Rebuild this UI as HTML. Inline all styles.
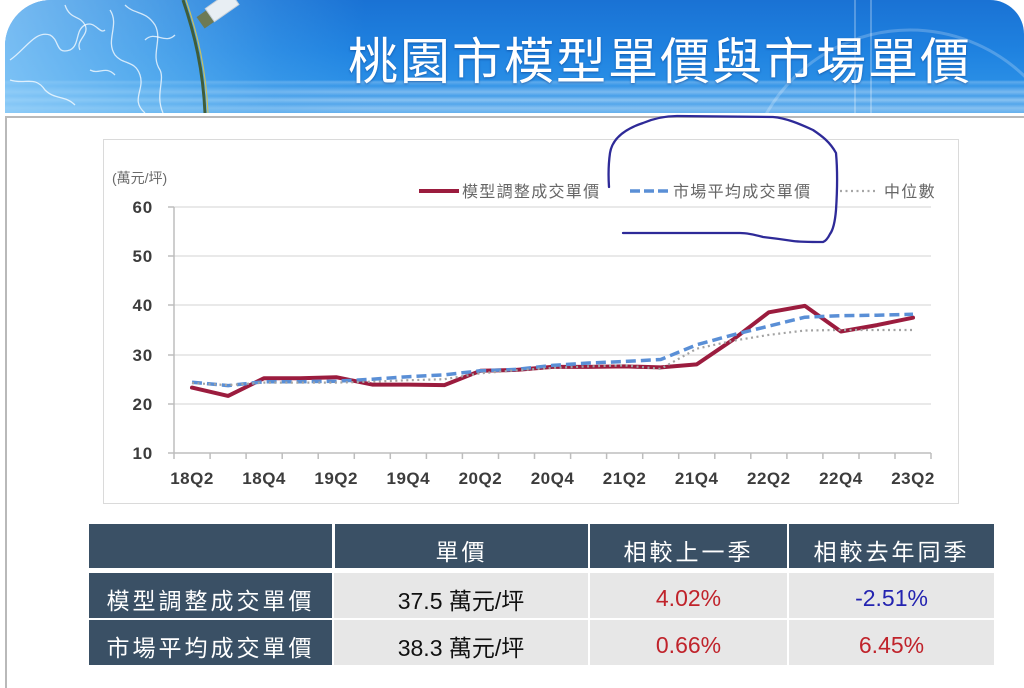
<!DOCTYPE html>
<html>
<head>
<meta charset="utf-8">
<style>
  html,body{margin:0;padding:0;background:#fff;}
  body{width:1024px;height:688px;position:relative;overflow:hidden;font-family:"Liberation Sans","Noto Sans CJK TC",sans-serif;}
  .banner{position:absolute;left:5px;top:0;width:1019px;height:113px;border-radius:46px 34px 0 0;overflow:hidden;
    background:
      linear-gradient(180deg, rgba(255,255,255,0) 0px, rgba(255,255,255,0) 80px, rgba(255,255,255,0.25) 82px, rgba(255,255,255,0.05) 86px, rgba(255,255,255,0.35) 92px, rgba(255,255,255,0.08) 96px, rgba(255,255,255,0.4) 100px, rgba(255,255,255,0.1) 104px, rgba(255,255,255,0.35) 108px, rgba(255,255,255,0.15) 113px),
      linear-gradient(180deg, #1a72d4 0%, #1f82e0 45%, #2a8fe6 75%, #4aa2ea 100%);
  }
  .banner .leftglow{position:absolute;left:0;top:0;width:360px;height:113px;
    background:linear-gradient(90deg, rgba(150,210,250,0.75) 0%, rgba(120,195,245,0.55) 40%, rgba(90,175,240,0.25) 75%, rgba(90,175,240,0) 100%);}
  .title{position:absolute;left:348px;top:32px;height:52px;line-height:52px;font-family:"Noto Sans CJK TC","Noto Sans CJK SC",sans-serif;font-size:50px;letter-spacing:2px;color:#fff;white-space:nowrap;text-shadow:0 1px 2px rgba(0,40,110,0.45);}
  .content{position:absolute;left:5px;top:116px;width:1019px;height:572px;border-top:2px solid #b9b9b9;border-left:2px solid #b9b9b9;background:#fff;box-sizing:border-box;}
  .cell{position:absolute;display:flex;align-items:center;justify-content:center;box-sizing:border-box;white-space:nowrap;}
  .hd{background:#3a5065;color:#fff;font-family:"Noto Sans CJK TC","Noto Sans CJK SC",sans-serif;font-size:23px;letter-spacing:3px;padding-top:8px;}
  .rh{background:#3a5065;color:#fff;font-family:"Noto Sans CJK TC","Noto Sans CJK SC",sans-serif;font-size:23px;letter-spacing:3px;padding-top:6px;}
  .bd{background:#e7e7e7;color:#111;font-family:"Liberation Sans","Noto Sans CJK TC",sans-serif;font-size:23px;padding-top:6px;}
  .red{color:#c0232b;}
  .blue{color:#2323b0;}
</style>
</head>
<body>
  <div class="banner">
    <div class="leftglow"></div>
    <svg width="1019" height="113" style="position:absolute;left:0;top:0" xmlns="http://www.w3.org/2000/svg">
      <!-- map outlines -->
      <g fill="none" stroke="rgba(255,255,255,0.75)" stroke-width="1.3">
        <path d="M5,60 C20,50 30,30 45,35 C55,40 50,55 65,50 C75,45 70,30 80,25 C90,20 95,35 100,30"/>
        <path d="M60,5 C65,20 75,15 80,25 C85,35 70,40 75,50"/>
        <path d="M105,10 C115,25 100,40 110,55 C118,65 130,60 135,75 C140,90 125,100 140,113"/>
        <path d="M120,5 C130,15 140,10 150,25 C158,40 145,55 155,70 C160,80 150,95 158,113"/>
        <path d="M5,80 C20,85 30,75 40,90 C50,100 60,95 70,105"/>
        <path d="M85,70 C95,75 100,65 110,75"/>
        <path d="M140,40 C150,30 160,45 170,35"/>
      </g>
      <!-- globe rim -->
      <path d="M178,0 C190,35 198,70 200,113" fill="none" stroke="#3f5d3a" stroke-width="3"/>
      <path d="M181,0 C193,35 201,70 203,113" fill="none" stroke="#c8c060" stroke-width="1.2"/>
      <!-- satellite -->
      <g transform="translate(195,22) rotate(-35)">
        <rect x="0" y="-6" width="14" height="14" fill="#6d7a55"/>
        <rect x="12" y="-8" width="30" height="16" fill="#e8eef3" stroke="#c5cfd8" stroke-width="1"/>
      </g>
      <!-- faint arcs and vertical lines -->
      <circle cx="905" cy="195" r="165" fill="none" stroke="rgba(255,255,255,0.22)" stroke-width="3"/>
      <line x1="850" y1="0" x2="850" y2="113" stroke="rgba(255,255,255,0.35)" stroke-width="1.5"/>
      <line x1="866" y1="0" x2="866" y2="113" stroke="rgba(255,255,255,0.35)" stroke-width="1.5"/>
    </svg>
  </div>
  <div class="title">桃園市模型單價與市場單價</div>

  <div class="content"></div>

  <svg width="1024" height="688" style="position:absolute;left:0;top:0" xmlns="http://www.w3.org/2000/svg">
    <!-- chart box -->
    <rect x="103.5" y="139.5" width="855" height="364" fill="#fff" stroke="#dadada" stroke-width="1"/>
    <!-- gridlines -->
    <g stroke="#dcdcdc" stroke-width="1.2">
      <line x1="174" y1="207" x2="931" y2="207"/>
      <line x1="174" y1="256" x2="931" y2="256"/>
      <line x1="174" y1="305" x2="931" y2="305"/>
      <line x1="174" y1="355" x2="931" y2="355"/>
      <line x1="174" y1="404" x2="931" y2="404"/>
    </g>
    <!-- axes -->
    <g stroke="#bdbdbd" stroke-width="1.5">
      <line x1="174" y1="207" x2="174" y2="453"/>
      <line x1="174" y1="453" x2="931" y2="453"/>
      <line x1="168" y1="207" x2="174" y2="207"/>
      <line x1="168" y1="256" x2="174" y2="256"/>
      <line x1="168" y1="305" x2="174" y2="305"/>
      <line x1="168" y1="355" x2="174" y2="355"/>
      <line x1="168" y1="404" x2="174" y2="404"/>
      <line x1="168" y1="453" x2="174" y2="453"/>
      <line x1="174.0" y1="453" x2="174.0" y2="459"/>
      <line x1="210.1" y1="453" x2="210.1" y2="459"/>
      <line x1="246.1" y1="453" x2="246.1" y2="459"/>
      <line x1="282.2" y1="453" x2="282.2" y2="459"/>
      <line x1="318.2" y1="453" x2="318.2" y2="459"/>
      <line x1="354.3" y1="453" x2="354.3" y2="459"/>
      <line x1="390.3" y1="453" x2="390.3" y2="459"/>
      <line x1="426.4" y1="453" x2="426.4" y2="459"/>
      <line x1="462.4" y1="453" x2="462.4" y2="459"/>
      <line x1="498.5" y1="453" x2="498.5" y2="459"/>
      <line x1="534.5" y1="453" x2="534.5" y2="459"/>
      <line x1="570.6" y1="453" x2="570.6" y2="459"/>
      <line x1="606.6" y1="453" x2="606.6" y2="459"/>
      <line x1="642.7" y1="453" x2="642.7" y2="459"/>
      <line x1="678.7" y1="453" x2="678.7" y2="459"/>
      <line x1="714.8" y1="453" x2="714.8" y2="459"/>
      <line x1="750.8" y1="453" x2="750.8" y2="459"/>
      <line x1="786.9" y1="453" x2="786.9" y2="459"/>
      <line x1="822.9" y1="453" x2="822.9" y2="459"/>
      <line x1="859.0" y1="453" x2="859.0" y2="459"/>
      <line x1="895.0" y1="453" x2="895.0" y2="459"/>
      <line x1="931.0" y1="453" x2="931.0" y2="459"/>
    </g>
    <!-- y labels -->
    <g font-family="Liberation Sans, sans-serif" font-size="17" font-weight="bold" fill="#3c3c3c" text-anchor="end" letter-spacing="0.8">
      <text x="153" y="213">60</text>
      <text x="153" y="262">50</text>
      <text x="153" y="311">40</text>
      <text x="153" y="361">30</text>
      <text x="153" y="410">20</text>
      <text x="153" y="459">10</text>
    </g>
    <!-- x labels -->
    <g font-family="Liberation Sans, sans-serif" font-size="17" font-weight="bold" fill="#3c3c3c" text-anchor="middle" letter-spacing="0.5">
      <text x="192.0" y="484">18Q2</text>
      <text x="264.1" y="484">18Q4</text>
      <text x="336.2" y="484">19Q2</text>
      <text x="408.3" y="484">19Q4</text>
      <text x="480.4" y="484">20Q2</text>
      <text x="552.5" y="484">20Q4</text>
      <text x="624.6" y="484">21Q2</text>
      <text x="696.7" y="484">21Q4</text>
      <text x="768.8" y="484">22Q2</text>
      <text x="840.9" y="484">22Q4</text>
      <text x="913.0" y="484">23Q2</text>
    </g>
    <!-- unit -->
    <text x="112" y="183" font-family="Liberation Sans, Noto Sans CJK TC, sans-serif" font-size="14" fill="#6a6a6a">(萬元/坪)</text>
    <!-- legend -->
    <line x1="419" y1="191" x2="459" y2="191" stroke="#9b1c3e" stroke-width="4"/>
    <text x="462" y="197" font-family="Noto Sans CJK TC, sans-serif" font-size="16" fill="#666" letter-spacing="1.3">模型調整成交單價</text>
    <line x1="630" y1="191" x2="670" y2="191" stroke="#5a8fd6" stroke-width="3.5" stroke-dasharray="10 4"/>
    <text x="673" y="197" font-family="Noto Sans CJK TC, sans-serif" font-size="16" fill="#666" letter-spacing="1.3">市場平均成交單價</text>
    <line x1="840" y1="191" x2="878" y2="191" stroke="#a6a6a6" stroke-width="2.2" stroke-dasharray="2 3.5"/>
    <text x="884" y="197" font-family="Noto Sans CJK TC, sans-serif" font-size="16" fill="#666" letter-spacing="1.3">中位數</text>

    <!-- series: red -->
    <polyline fill="none" stroke="#9b1c3e" stroke-width="4" stroke-linejoin="round" stroke-linecap="round"
      points="192.0,387.6 228.1,395.9 264.1,378.2 300.2,378.2 336.2,377.2 372.3,384.6 408.3,384.6 444.4,385.1 480.4,370.8 516.5,369.9 552.5,366.9 588.6,366.9 624.6,366.4 660.7,367.4 696.7,364.4 732.8,339.8 768.8,312.3 804.9,305.9 840.9,331.5 877.0,325.1 913.0,317.7"/>
    <!-- series: blue dashed -->
    <polyline fill="none" stroke="#5a8fd6" stroke-width="3.5" stroke-dasharray="10 5" stroke-linejoin="round"
      points="192.0,382.2 228.1,385.6 264.1,381.7 300.2,381.7 336.2,381.2 372.3,379.2 408.3,376.7 444.4,374.8 480.4,370.8 516.5,369.4 552.5,365.4 588.6,363.0 624.6,361.5 660.7,359.5 696.7,344.8 732.8,334.9 768.8,326.1 804.9,317.2 840.9,315.7 877.0,315.2 913.0,314.3"/>
    <!-- series: gray dotted -->
    <polyline fill="none" stroke="#a3a3a3" stroke-width="2.2" stroke-dasharray="2 3.5" stroke-linejoin="round"
      points="192.0,383.1 228.1,385.1 264.1,382.6 300.2,382.6 336.2,382.6 372.3,381.7 408.3,380.2 444.4,379.2 480.4,373.3 516.5,370.3 552.5,367.9 588.6,366.4 624.6,365.4 660.7,368.9 696.7,348.7 732.8,340.8 768.8,334.9 804.9,330.5 840.9,330.0 877.0,330.0 913.0,330.0"/>

    <!-- hand-drawn annotation -->
    <path d="M609,187 C608,172 609,160 610,153 C612,140 622,130 643,123 C655,118 665,116 677,116 L773,117 C786,118 800,124 813,130 C822,136 830,142 836,153 C838,175 837,195 836,210 C835,222 833,230 830,234 C828,238 826,241 823,242 C808,242 800,242 793,241 C780,239 772,238 763,237 C752,234 746,233 740,233 L623,233"
      fill="none" stroke="#2e2a98" stroke-width="2.3" stroke-linecap="round" stroke-linejoin="round"/>
  </svg>

  <!-- table -->
  <div class="cell hd" style="left:89px;top:524px;width:243px;height:44px;"></div>
  <div class="cell hd" style="left:335px;top:524px;width:253px;height:44px;">單價</div>
  <div class="cell hd" style="left:590px;top:524px;width:197px;height:44px;">相較上一季</div>
  <div class="cell hd" style="left:789px;top:524px;width:205px;height:44px;">相較去年同季</div>

  <div class="cell rh" style="left:89px;top:573px;width:243px;height:45px;">模型調整成交單價</div>
  <div class="cell bd" style="left:334px;top:573px;width:254px;height:45px;">37.5 萬元/坪</div>
  <div class="cell bd red" style="left:590px;top:573px;width:197px;height:45px;">4.02%</div>
  <div class="cell bd blue" style="left:789px;top:573px;width:205px;height:45px;">-2.51%</div>

  <div class="cell rh" style="left:89px;top:620px;width:243px;height:45px;">市場平均成交單價</div>
  <div class="cell bd" style="left:334px;top:620px;width:254px;height:45px;">38.3 萬元/坪</div>
  <div class="cell bd red" style="left:590px;top:620px;width:197px;height:45px;">0.66%</div>
  <div class="cell bd red" style="left:789px;top:620px;width:205px;height:45px;">6.45%</div>
</body>
</html>
